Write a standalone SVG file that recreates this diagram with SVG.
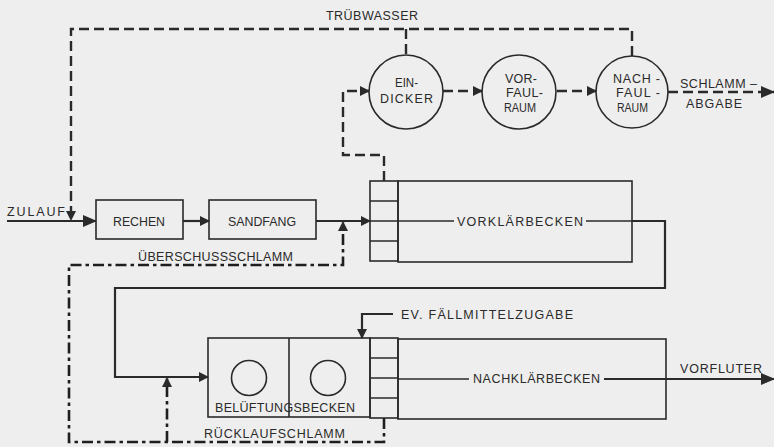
<svg xmlns="http://www.w3.org/2000/svg" width="774" height="447" viewBox="0 0 774 447">
<defs>
<marker id="arr" markerUnits="userSpaceOnUse" markerWidth="14" markerHeight="12" refX="13" refY="6" orient="auto">
<path d="M0,0 L14,6 L0,12 z" fill="#2a2a2a"/>
</marker>
<marker id="arrs" markerUnits="userSpaceOnUse" markerWidth="10" markerHeight="10" refX="9" refY="5" orient="auto">
<path d="M0,0 L10,5 L0,10 z" fill="#2a2a2a"/>
</marker>
</defs>
<style>
.bg{fill:#eeeeee}
.box{fill:none;stroke:#2a2a2a;stroke-width:1.6}
.solid{fill:none;stroke:#2a2a2a;stroke-width:2.2}
.thin{fill:none;stroke:#2a2a2a;stroke-width:1.6}
.dash{fill:none;stroke:#2a2a2a;stroke-width:2.4;stroke-dasharray:10 5}
.dd{fill:none;stroke:#1e1e1e;stroke-width:2.6;stroke-dasharray:11 4 3.5 4}
text{font-family:"Liberation Sans",Arial,sans-serif;font-size:12.5px;fill:#2a2a2a}
</style>
<rect class="bg" x="0" y="0" width="774" height="447"/>

<g id="connectors">
<path class="solid" d="M7,221 H96" marker-end="url(#arr)"/>
<path class="solid" d="M183,221 H209" marker-end="url(#arrs)"/>
<path class="solid" d="M316,221 H370" marker-end="url(#arrs)"/>
<path class="dash" d="M632,56 V29 H71 V220" marker-end="url(#arrs)"/>
<path class="dash" d="M406,29 V55"/>
<path class="dash" d="M384,181 V155 H343 V91 H369" marker-end="url(#arrs)"/>
<path class="dash" d="M443,91 H482" marker-end="url(#arrs)"/>
<path class="dash" d="M557,91 H596" marker-end="url(#arrs)"/>
<path class="dash" d="M668,92 H774" marker-end="url(#arr)"/>
<path class="thin" d="M398,221 H454"/>
<path class="solid" d="M632,221 H665 V288 H115 V377 H208" marker-end="url(#arrs)"/>
<path class="thin" d="M586,221 H632"/>
<path class="solid" d="M393,314 H362 V338" marker-end="url(#arrs)"/>
<path class="thin" d="M398,379 H469"/>
<path class="solid" d="M604,379 H774" marker-end="url(#arr)"/>
<path class="dd" d="M384,418 V442 H69 V265 H343 V222" marker-end="url(#arrs)"/>
<path class="dd" d="M167,442 V378" marker-end="url(#arrs)"/>
</g>

<g id="labels">
<text x="326" y="20" textLength="92" lengthAdjust="spacing">TRÜBWASSER</text>
<text x="7" y="216" textLength="58" lengthAdjust="spacing">ZULAUF</text>
<text x="680" y="88" textLength="77" lengthAdjust="spacing">SCHLAMM –</text>
<text x="686" y="108" textLength="56" lengthAdjust="spacing">ABGABE</text>
<text x="680" y="373" textLength="82" lengthAdjust="spacing">VORFLUTER</text>
<text x="401" y="319" textLength="172" lengthAdjust="spacing">EV. FÄLLMITTELZUGABE</text>
<text x="138" y="261" textLength="155" lengthAdjust="spacing">ÜBERSCHUSSSCHLAMM</text>
<text x="204" y="438" textLength="141" lengthAdjust="spacing">RÜCKLAUFSCHLAMM</text>
</g>

<g id="rechen">
<rect class="box" x="96" y="200" width="87" height="39"/>
<text x="113" y="226" textLength="52" lengthAdjust="spacingAndGlyphs">RECHEN</text>
</g>
<g id="sandfang">
<rect class="box" x="209" y="200" width="107" height="39"/>
<text x="228" y="226" textLength="68" lengthAdjust="spacingAndGlyphs">SANDFANG</text>
</g>
<g id="eindicker">
<circle class="box" cx="406" cy="92" r="37"/>
<text x="395" y="87" textLength="23" lengthAdjust="spacingAndGlyphs">EIN-</text>
<text x="380" y="103" textLength="53" lengthAdjust="spacing">DICKER</text>
</g>
<g id="vorfaulraum">
<circle class="box" cx="519" cy="92" r="37"/>
<text x="505" y="83" textLength="32" lengthAdjust="spacing">VOR-</text>
<text x="506" y="97" textLength="37" lengthAdjust="spacing">FAUL-</text>
<text x="504" y="112" textLength="32" lengthAdjust="spacingAndGlyphs">RAUM</text>
</g>
<g id="nachfaulraum">
<circle class="box" cx="632" cy="92" r="36"/>
<text x="613" y="83" textLength="47" lengthAdjust="spacing">NACH -</text>
<text x="616" y="97" textLength="44" lengthAdjust="spacing">FAUL -</text>
<text x="617" y="112" textLength="31" lengthAdjust="spacingAndGlyphs">RAUM</text>
</g>
<g id="vorklaerbecken">
<rect class="box" x="370" y="181" width="28" height="80"/>
<path class="box" d="M370,201 H398 M370,221 H398 M370,241 H398"/>
<rect class="box" x="398" y="181" width="234" height="81"/>
<text x="457" y="226" textLength="126" lengthAdjust="spacing">VORKLÄRBECKEN</text>
</g>
<g id="belueftungsbecken">
<rect class="box" x="208" y="338" width="162" height="79"/>
<path class="box" d="M289,338 V417"/>
<circle class="box" cx="249" cy="378" r="17.5"/>
<circle class="box" cx="328" cy="378" r="17.5"/>
<text x="215" y="412" textLength="140" lengthAdjust="spacing">BELÜFTUNGSBECKEN</text>
</g>
<g id="nachklaerbecken">
<rect class="box" x="370" y="338" width="28" height="80"/>
<path class="box" d="M370,358 H398 M370,378 H398 M370,398 H398"/>
<rect class="box" x="398" y="339" width="268" height="80"/>
<text x="473" y="383" textLength="127" lengthAdjust="spacing">NACHKLÄRBECKEN</text>
</g>
</svg>
